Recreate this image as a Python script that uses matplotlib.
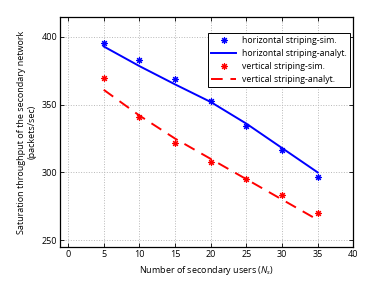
import matplotlib
matplotlib.use("Agg")
import matplotlib.pyplot as plt

plt.rcParams['font.family'] = ['Open Sans', 'DejaVu Sans']
plt.rcParams['mathtext.fontset'] = 'custom'
plt.rcParams['mathtext.it'] = 'Open Sans:italic'

users = [5, 10, 15, 20, 25, 30, 35]
horiz_sim = [395.5, 383, 369, 352.5, 334.5, 316.5, 296.5]
horiz_analyt = [393, 378.5, 365, 352, 336, 318, 300]
vert_sim = [369.5, 341, 321.5, 308, 295, 283, 270]
vert_analyt = [361, 342, 325, 310, 295, 280, 265]

xticks = [0, 5, 10, 15, 20, 25, 30, 35, 40]
yticks = [250, 300, 350, 400]

fig = plt.figure(figsize=(3.74, 2.99), dpi=100)
ax = fig.add_axes([0.161, 0.174, 0.784, 0.769])

ast = (8, 2, 0)
ax.plot(users, horiz_sim, linestyle='none', marker=ast, color='#0000ff', markersize=4.8, markeredgewidth=0.8,
        label='horizontal striping-sim.')
ax.plot(users, horiz_analyt, color='#0000ff', linewidth=1.4, label='horizontal striping-analyt.')
ax.plot(users, vert_sim, linestyle='none', marker=ast, color='#ff0000', markersize=4.8, markeredgewidth=0.8,
        label='vertical striping-sim.')
ax.plot(users, vert_analyt, color='#ff0000', linewidth=1.4, dashes=(6, 4), label='vertical striping-analyt.')

ax.set_xlim(-1.1, 40)
ax.set_ylim(245, 414.7)
ax.set_xticks(xticks)
ax.set_yticks(yticks)
ax.tick_params(direction='in', length=3, width=0.6, labelsize=6.5, top=True, right=True, pad=2)
ax.grid(True, linestyle=':', color='#b8b8b8', linewidth=0.7)
for s in ax.spines.values():
    s.set_linewidth(0.9)

ax.set_xlabel('Number of secondary users ($N_s$)', fontsize=6.5, labelpad=4)
ax.set_ylabel('Saturation throughput of the secondary network\n(packets/sec)', fontsize=6.5, labelpad=4)

leg = ax.legend(loc='upper right', bbox_to_anchor=(0.995, 0.94), fontsize=6.3, frameon=True, fancybox=False,
                edgecolor='black', framealpha=1, handlelength=2.8, borderpad=0.4, labelspacing=0.45,
                handletextpad=0.7, borderaxespad=0.2)
leg.get_frame().set_linewidth(0.7)

fig.savefig('out.png', dpi=100)
